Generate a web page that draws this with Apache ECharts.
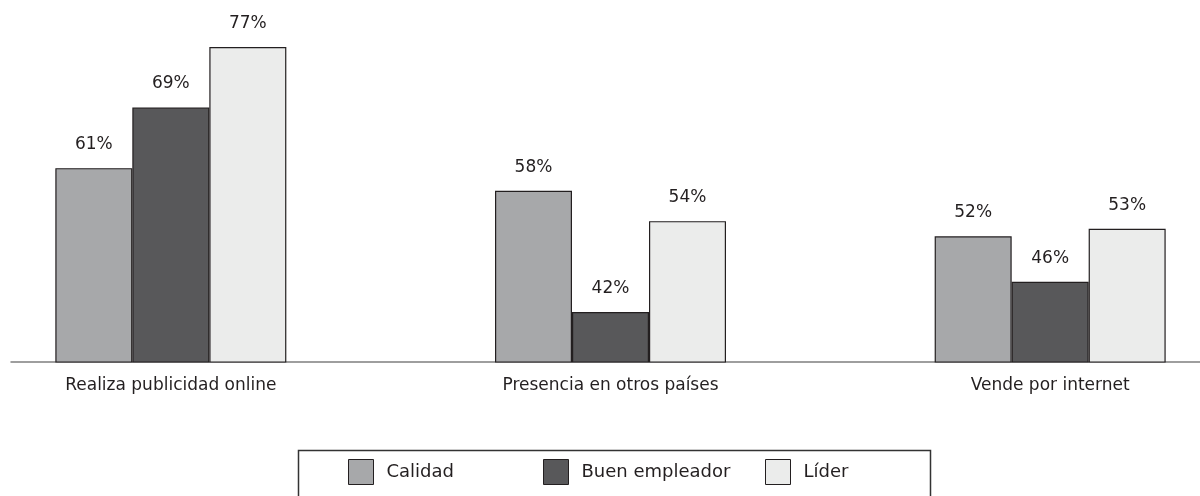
<!DOCTYPE html>
<html>
<head>
<meta charset="utf-8">
<title>Atributos de marca</title>
<script src="https://cdn.jsdelivr.net/npm/echarts@6/dist/echarts.min.js"></script>
<style>
  html, body { margin: 0; padding: 0; background: #fff; }
  #chartArea { width: 1200px; height: 496px; }
</style>
</head>
<body>
<div id="chartArea"></div>
<script>
// datos
var categorias = ['Realiza publicidad online', 'Presencia en otros países', 'Vende por internet'];
var calidad = [61, 58, 52];
var buenEmpleador = [69, 42, 46];
var lider = [77, 54, 53];

var nombres = ['Calidad', 'Buen empleador', 'Líder'];
var colores = ['#a7a8aa', '#58585a', '#ebeceb'];
var fuente = 'DejaVu Sans';

function serie(nombre, datos, color) {
    return {
        name: nombre,
        type: 'bar',
        xAxisIndex: 0,
        yAxisIndex: 0,
        data: datos,
        barWidth: 77,
        barGap: '0%',
        itemStyle: {
            color: color,
            borderColor: '#231f20',
            borderWidth: 1.2
        },
        label: {
            show: true,
            position: 'top',
            distance: 15,
            formatter: '{c}%',
            color: '#231f20',
            fontFamily: fuente,
            fontSize: 17
        }
    };
}

function leyenda(nombre, left) {
    return {
        data: [nombre],
        left: left,
        top: 459,
        padding: 0,
        orient: 'horizontal',
        itemWidth: 25,
        itemHeight: 25,
        icon: 'rect',
        itemStyle: { borderColor: '#231f20', borderWidth: 1 },
        textStyle: {
            color: '#231f20',
            fontFamily: fuente,
            fontSize: 18,
            padding: [0, 0, 0, 8]
        },
        selectedMode: false
    };
}

var myChart = echarts.init(document.getElementById('chartArea'));

var options = {
    backgroundColor: '#ffffff',
    animation: false,
    grid: [
        { left: -49, width: 1319, top: 47, bottom: 134, containLabel: false, outerBoundsMode: 'none' },
        { left: 11, right: 0, top: 47, bottom: 134, containLabel: false, outerBoundsMode: 'none' }
    ],
    xAxis: [
        {
            type: 'category',
            gridIndex: 0,
            data: categorias,
            axisLine: { show: false },
            axisTick: { show: false },
            axisLabel: {
                margin: 15,
                color: '#231f20',
                fontFamily: fuente,
                fontSize: 17
            }
        },
        {
            type: 'category',
            gridIndex: 1,
            data: categorias,
            axisLine: { show: true, lineStyle: { color: '#7f7f7f', width: 1.5 } },
            axisTick: { show: false },
            axisLabel: { show: false }
        }
    ],
    yAxis: [
        {
            type: 'value',
            gridIndex: 0,
            min: 35.4,
            max: 77,
            show: false,
            splitLine: { show: false }
        },
        {
            type: 'value',
            gridIndex: 1,
            show: false,
            splitLine: { show: false }
        }
    ],
    legend: [
        leyenda(nombres[0], 348),
        leyenda(nombres[1], 543),
        leyenda(nombres[2], 765)
    ],
    graphic: [
        {
            type: 'rect',
            left: 296,
            top: 448,
            shape: { width: 632, height: 70 },
            style: { fill: 'none', stroke: '#333333', lineWidth: 1.5 },
            silent: true
        }
    ],
    series: [
        serie(nombres[0], calidad, colores[0]),
        serie(nombres[1], buenEmpleador, colores[1]),
        serie(nombres[2], lider, colores[2])
    ]
};

myChart.setOption(options);
</script>
</body>
</html>
